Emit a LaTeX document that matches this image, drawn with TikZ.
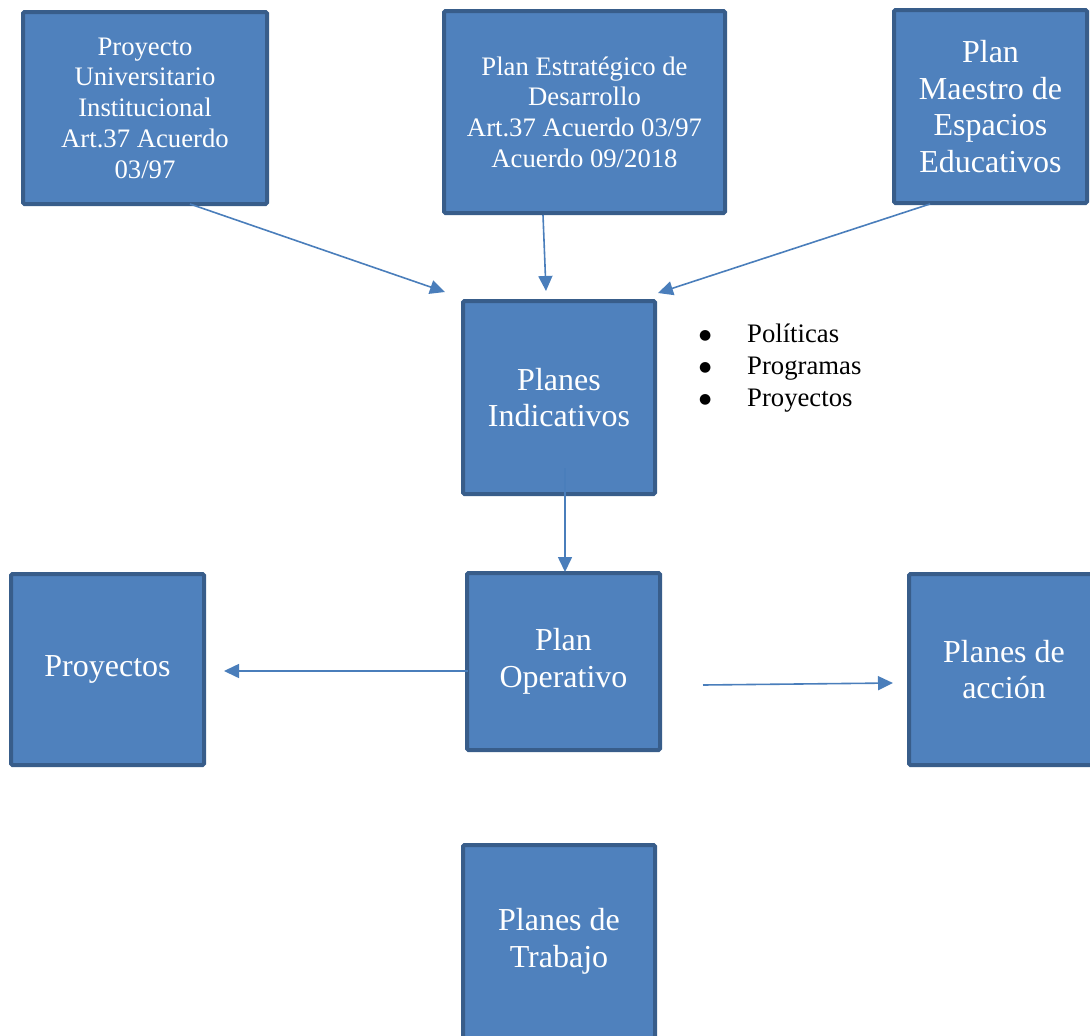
\documentclass[tikz,border=0pt]{standalone}
\usepackage{fontspec}
\setmainfont{Liberation Serif}
\newfontfamily\simbolos{DejaVu Sans}
\usetikzlibrary{arrows.meta,positioning,calc}
\definecolor{cajaazul}{HTML}{4F81BD}
\definecolor{bordeazul}{HTML}{385D8A}
\definecolor{flechaazul}{HTML}{4A7EBB}
\newcommand{\vineta}{\makebox[48pt][l]{\raisebox{3pt}{\simbolos\fontsize{14}{14}\selectfont ●}}}

\begin{document}
\begin{tikzpicture}[x=1pt,y=-1pt,
        caja/.style={draw=bordeazul, fill=cajaazul, line width=4pt, rounded corners=1.5pt,
            text=white, align=center, inner sep=0pt},
        chica/.style={font=\fontsize{26.7}{30.7}\selectfont},
        grande/.style={font=\fontsize{32}{36.8}\selectfont},
        flecha/.style={draw=flechaazul, line width=1.6pt, -{Triangle[length=15pt,width=14pt]}}]
    \useasboundingbox (0,0) rectangle (1090,1036);
    % fila superior
    \node[caja, chica, minimum width=244pt, minimum height=192pt] (pui) at (145,108)
        {Proyecto\\Universitario\\Institucional\\Art.37 Acuerdo\\03/97};
    \node[caja, chica, minimum width=281pt, minimum height=202pt] (ped) at (584.5,112)
        {Plan Estratégico de\\Desarrollo\\Art.37 Acuerdo 03/97\\Acuerdo 09/2018};
    \node[caja, grande, minimum width=193pt, minimum height=193pt] (pme) at (990.5,106.5)
        {Plan\\Maestro de\\Espacios\\Educativos};
    % centro
    \node[caja, grande, minimum width=192pt, minimum height=193pt] (ind) at (559,397.5)
        {Planes\\Indicativos};
    \node[anchor=base west, align=left, inner sep=0pt, font=\fontsize{26.7}{32}\selectfont] (lista) at (699,406)
        {\vineta Políticas\\\vineta Programas\\\vineta Proyectos};
    \node[caja, grande, minimum width=193pt, minimum height=177pt, below=75pt of ind, xshift=4.5pt] (ope)
        {Plan\\Operativo};
    \node[caja, grande, minimum width=193pt, minimum height=191pt, left=259pt of ope, yshift=-8pt] (pro)
        {Proyectos};
    \node[caja, grande, minimum width=190pt, minimum height=191pt, right=245pt of ope, yshift=-8pt] (acc)
        {Planes de\\acción};
    \node[caja, grande, minimum width=192pt, minimum height=193pt, below=91pt of ope, xshift=-4.5pt] (tra)
        {Planes de\\Trabajo};
    % flechas
    \draw[flecha] ($(pui.south)+(45,-2)$) -- ($(ind.north west)+(-16,-7)$);
    \draw[flecha] ($(ped.south)+(-41.5,0)$) -- ($(ind.north)+(-13,-8)$);
    \draw[flecha] ($(pme.south)+(-60.5,-1)$) -- ($(ind.north east)+(1,-6)$);
    \draw[flecha] ($(ind.south)+(6,-28)$) -- ($(ope.north)+(1.5,1)$);
    \draw[flecha] ($(ope.west)+(3,9.5)$) -- ($(pro.east)+(18,1.5)$);
    \draw[flecha] ($(ope.east)+(41,23.5)$) -- ($(acc.west)+(-14,13.5)$);
\end{tikzpicture}
\end{document}
